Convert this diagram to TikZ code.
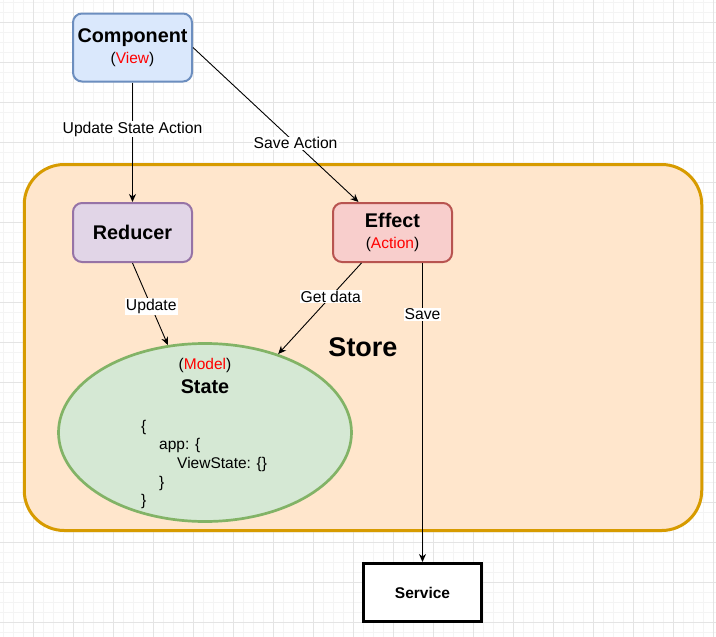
\documentclass[tikz,border=0pt]{standalone}
\usepackage{fontspec}
\setmainfont{Liberation Sans}
\usetikzlibrary{arrows.meta,calc,shapes.geometric}
\definecolor{compfill}{HTML}{DAE8FC}
\definecolor{compdraw}{HTML}{6C8EBF}
\definecolor{redfill}{HTML}{E1D5E7}
\definecolor{reddraw}{HTML}{9673A6}
\definecolor{efffill}{HTML}{F8CECC}
\definecolor{effdraw}{HTML}{B85450}
\definecolor{storefill}{HTML}{FFE6CC}
\definecolor{storedraw}{HTML}{D79B00}
\definecolor{statefill}{HTML}{D5E8D4}
\definecolor{statedraw}{HTML}{82B366}
\definecolor{hilite}{HTML}{FF0000}
\definecolor{gridminor}{HTML}{F4F4F4}
\definecolor{gridmajor}{HTML}{E4E4E4}
\begin{document}
\begin{tikzpicture}[x=1pt,y=-1pt,
  box/.style={draw, rounded corners=9pt, line width=2pt, minimum width=119pt,
    minimum height=59pt, inner sep=0pt, align=center,
    font=\fontsize{15.5}{21}\selectfont},
  conn/.style={line width=0.9pt, -{Stealth[length=8pt,width=7pt,inset=2.5pt]}},
  elabel/.style={fill=white, inner sep=1pt, font=\fontsize{15.7}{18}\selectfont},
  big/.style={font=\bfseries\fontsize{19.8}{20.5}\selectfont}]
\useasboundingbox (0,0) rectangle (716,637);
\fill[white] (0,0) rectangle (716,637);
% grid
\foreach \gx in {3,13,...,713} \draw[gridminor, line width=0.8pt] (\gx,0) -- (\gx,637);
\foreach \gy in {2.2,12.2,...,637} \draw[gridminor, line width=0.8pt] (0,\gy) -- (716,\gy);
\foreach \gx in {33,73,...,713} \draw[gridmajor, line width=1pt] (\gx,0) -- (\gx,637);
\foreach \gy in {22.2,62.2,...,637} \draw[gridmajor, line width=1pt] (0,\gy) -- (716,\gy);

% store
\node[draw=storedraw, fill=storefill, line width=3pt, rounded corners=40pt,
  minimum width=677.5pt, minimum height=366pt, inner sep=0pt,
  font=\bfseries\fontsize{27}{30}\selectfont] (store) at (363,347.5) {Store};

% boxes
\node[box, draw=compdraw, fill=compfill, minimum height=68pt] (comp) at (132.5,47.5)
  {{\bfseries\fontsize{19.8}{21}\selectfont Component}\\(\textcolor{hilite}{View})};
\node[box, draw=reddraw, fill=redfill] (red) at (132.5,232.5)
  {{\bfseries\fontsize{19.8}{21}\selectfont Reducer}};
\node[box, draw=effdraw, fill=efffill] (eff) at (392.5,232.5)
  {{\bfseries\fontsize{19.8}{21}\selectfont Effect}\\(\textcolor{hilite}{Action})};

% state
\node[ellipse, draw=statedraw, fill=statefill, line width=2.7pt,
  minimum width=293pt, minimum height=178pt, inner sep=0pt] (state) at (205,432.5) {};
\node[font=\fontsize{15.5}{18}\selectfont, inner sep=0pt] (model) at (205,365)
  {(\textcolor{hilite}{Model})};
\node[big, inner sep=0pt] (statetitle) at (205,387) {State};
\node[anchor=west, align=left, inner sep=0pt, font=\fontsize{15.5}{18.7}\selectfont]
  (statebody) at (141,464.5)
  {\{\\\hspace*{18pt}app: \{\\\hspace*{36pt}ViewState: \{\}\\\hspace*{18pt}\}\\\}};

% service
\node[draw=black, fill=white, line width=3pt, minimum width=118pt, minimum height=58pt,
  inner sep=0pt, font=\bfseries\fontsize{15.5}{18}\selectfont] (serv) at (422.5,592.5) {Service};

% connectors
\draw[conn] (comp.south) -- node[elabel, pos=0.39] {Update State Action} (red.north);
\draw[conn] (comp.east) -- node[elabel, pos=0.62] {Save Action} ($(eff.north)+(-34,0)$);
\draw[conn] (red.south) -- node[elabel, pos=0.53] {Update} (state.113.4);
\draw[conn] ($(eff.south)+(-31,0)$) -- node[elabel, pos=0.37] {Get data} (state.47.4);
\draw[conn] ($(eff.south)+(30,0)$) -- node[elabel, pos=0.172] {Save} (serv.north);
\end{tikzpicture}
\end{document}
